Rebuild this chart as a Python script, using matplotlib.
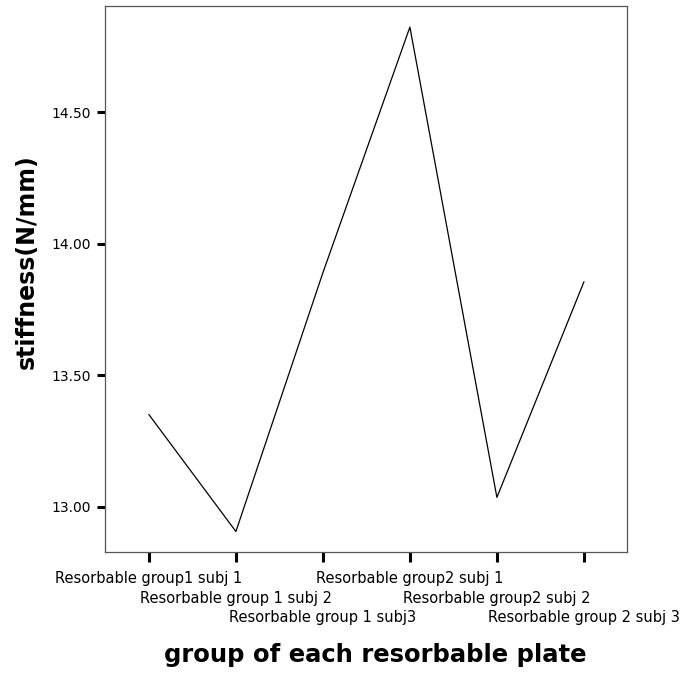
import matplotlib
matplotlib.use("Agg")
import matplotlib.pyplot as plt

# stiffness per resorbable plate sample
samples = [
    "Resorbable group1 subj 1",
    "Resorbable group 1 subj 2",
    "Resorbable group 1 subj3",
    "Resorbable group2 subj 1",
    "Resorbable group2 subj 2",
    "Resorbable group 2 subj 3",
]
stiffness = [13.35, 12.905, 13.89, 14.825, 13.035, 13.855]
y_ticks = [13.0, 13.5, 14.0, 14.5]

fig = plt.figure(figsize=(6.87, 6.74), dpi=100)
ax = fig.add_axes([0.1528, 0.181, 0.7598, 0.810])

x = list(range(len(samples)))
ax.plot(x, stiffness, color="black", linewidth=0.9)

ax.set_xlim(-0.505, 5.495)
ax.set_ylim(12.827, 14.905)

# category names are staggered over three rows below the ticks
ax.set_xticks(x)
ax.set_xticklabels([])
row_offsets = [-26, -46, -65]  # pixels below the axis
for i, name in enumerate(samples):
    ax.annotate(name, xy=(i, 0), xycoords=("data", "axes fraction"),
                xytext=(0, row_offsets[i % 3] * 0.72), textcoords="offset points",
                ha="center", va="center", fontsize=10.5)

ax.set_yticks(y_ticks)
ax.set_yticklabels([f"{v:.2f}" for v in y_ticks], fontsize=10)

ax.tick_params(axis="x", length=7, width=2.2, color="black")
ax.tick_params(axis="y", length=6, width=2.2, color="black", pad=4)

for sp in ax.spines.values():
    sp.set_color("#555555")
    sp.set_linewidth(0.9)

fig.text(0.546, 1 - 655 / 674, "group of each resorbable plate",
         fontsize=17.5, fontweight="bold", ha="center", va="center")
fig.text(27 / 687, 1 - 262 / 674, "stiffness(N/mm)", rotation=90,
         fontsize=17, fontweight="bold", ha="center", va="center")

fig.savefig("out.png", dpi=100)
